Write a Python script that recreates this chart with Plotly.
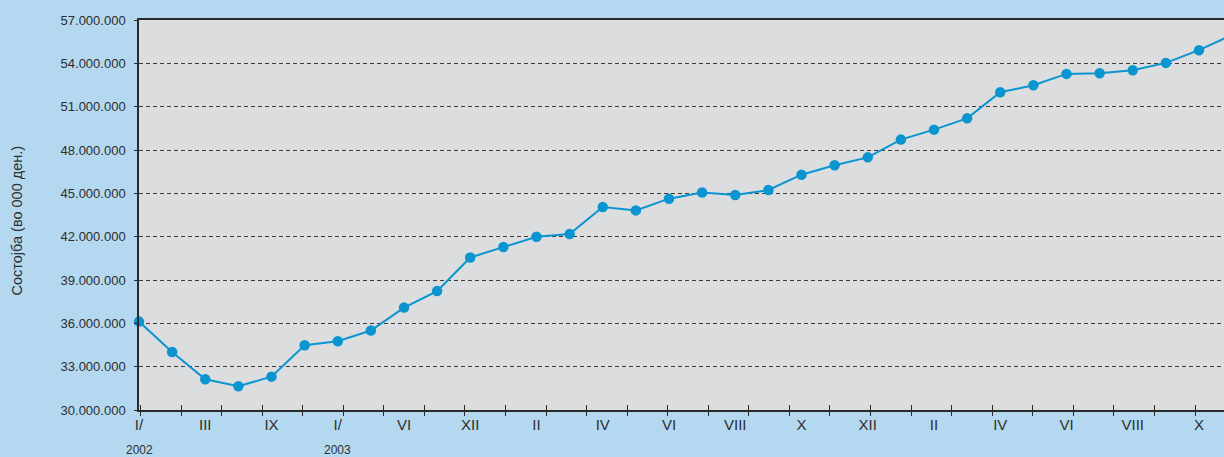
import plotly.graph_objects as go

# Monthly balance, in thousands of denars
values = [36120000, 34020000, 32130000, 31640000, 32310000, 34480000, 34760000,
          35500000, 37090000, 38230000, 40560000, 41280000, 41990000, 42180000,
          44050000, 43820000, 44630000, 45060000, 44880000, 45230000, 46290000,
          46940000, 47490000, 48720000, 49410000, 50190000, 52000000, 52480000,
          53270000, 53310000, 53520000, 54030000, 54910000, 55970000]
periods = list(range(len(values)))

tick_labels = ["I/", "III", "IX", "I/", "VI", "XII", "II", "IV", "VI", "VIII",
               "X", "XII", "II", "IV", "VI", "VIII", "X"]
tick_positions = periods[0:33:2]

year_labels = ["2002", "2003"]
year_positions = [0, 6]

y_ticks = list(range(30000000, 57000001, 3000000))

BLUE = "#0a95d1"
INK = "#2e2e2e"
SANS = "Liberation Sans, Arial, sans-serif"

fig = go.Figure()
fig.add_trace(go.Scatter(x=periods, y=values, mode="lines",
                         line=dict(color=BLUE, width=2), hoverinfo="skip"))
fig.add_trace(go.Scatter(x=periods[:33], y=values[:33], mode="markers",
                         marker=dict(color=BLUE, size=10.5), cliponaxis=False))

x_range = [0, 32.755]

fig.update_layout(
    width=1224, height=457,
    margin=dict(l=139, r=0, t=20, b=47),
    paper_bgcolor="#b4d8ef",
    plot_bgcolor="#dcdddf",
    showlegend=False,
    separators=",.",
    xaxis=dict(
        range=x_range, showgrid=False, zeroline=False,
        showline=True, linecolor="#2a2a2a", linewidth=1.5, mirror=True,
        tickmode="array", tickvals=tick_positions, ticktext=tick_labels,
        ticks="", tickfont=dict(family=SANS, size=15, color=INK),
        minor=dict(ticks="outside", ticklen=4, tickwidth=1.3, tickcolor="#2a2a2a",
                   tickmode="linear", tick0=1.268, dtick=1.2245, showgrid=False),
    ),
    xaxis2=dict(
        range=x_range, overlaying="x", anchor="y", side="bottom",
        showgrid=False, zeroline=False, showline=False, showticklabels=False,
        tickmode="linear", tick0=1.268, dtick=1.2245,
        ticks="inside", ticklen=5, tickwidth=1.3, tickcolor="#2a2a2a",
    ),
    yaxis=dict(
        range=[30000000, 57000000], tickmode="array", tickvals=y_ticks,
        tickformat=",d", zeroline=False,
        showline=True, linecolor="#2a2a2a", linewidth=1.5,
        showgrid=True, gridcolor="#3a3a3a", gridwidth=1, griddash="4px,3px",
        ticks="outside", ticklen=3, tickcolor="#2a2a2a", ticklabelstandoff=6,
        tickfont=dict(family=SANS, size=13, color=INK),
    ),
)

# empty trace so the overlay tick axis is drawn
fig.add_trace(go.Scatter(x=[], y=[], xaxis="x2", yaxis="y", showlegend=False))

for text, pos in zip(year_labels, year_positions):
    fig.add_annotation(x=pos, y=-0.102, xref="x", yref="paper", text=text,
                       showarrow=False, xanchor="center", yanchor="middle",
                       font=dict(family=SANS, size=12, color=INK))

fig.add_annotation(x=-0.112, y=0.487, xref="paper", yref="paper",
                   text="Состојба (во 000 ден.)", textangle=-90, showarrow=False,
                   xanchor="center", yanchor="middle",
                   font=dict(family=SANS, size=14.5, color=INK))

fig.write_html("out.html")
